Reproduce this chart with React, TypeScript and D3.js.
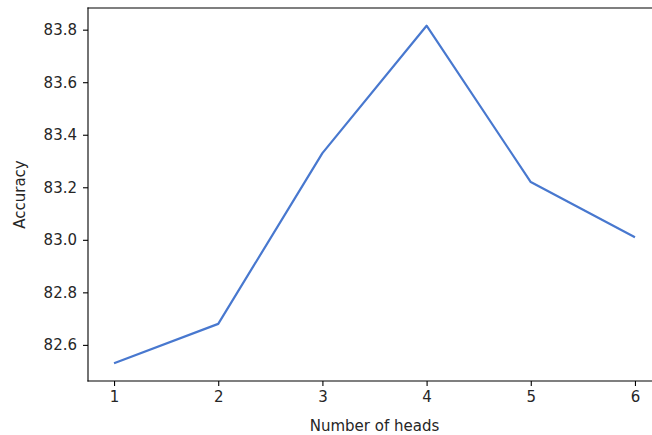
import React, { useEffect, useRef } from 'react';
import * as d3 from 'd3';

const heads = [1, 2, 3, 4, 5, 6];
const accuracy = [82.53, 82.68, 83.33, 83.815, 83.22, 83.01];
const yTicks = [82.6, 82.8, 83.0, 83.2, 83.4, 83.6, 83.8];

const width = 652;
const height = 435;
const margin = { top: 8, right: -9, bottom: 54, left: 88 };
const font = '"DejaVu Sans", sans-serif';

const App = () => {
  const svgRef = useRef<SVGSVGElement>(null);

  useEffect(() => {
    const svg = d3.select(svgRef.current);
    svg.selectAll('*').remove();

    const x = d3.scaleLinear()
      .domain([0.75, 6.25])
      .range([margin.left, width - margin.right]);

    const y = d3.scaleLinear()
      .domain([82.4625, 83.8825])
      .range([height - margin.bottom, margin.top]);

    const line = d3.line<number>()
      .x((d, i) => x(heads[i]))
      .y(d => y(d));

    svg.append('path')
      .datum(accuracy)
      .attr('d', line)
      .attr('fill', 'none')
      .attr('stroke', '#4878cf')
      .attr('stroke-width', 2.2)
      .attr('stroke-linejoin', 'round');

    // x axis
    const xAxis = svg.append('g')
      .attr('transform', `translate(0,${height - margin.bottom})`)
      .call(d3.axisBottom(x).tickValues(heads).tickFormat(d3.format('d')).tickSize(5).tickPadding(5));

    // y axis
    const yAxis = svg.append('g')
      .attr('transform', `translate(${margin.left},0)`)
      .call(d3.axisLeft(y).tickValues(yTicks).tickFormat(d3.format('.1f')).tickSize(5).tickPadding(6));

    [xAxis, yAxis].forEach(g => {
      g.select('.domain').remove();
      g.selectAll('line').attr('stroke', '#000').attr('stroke-width', 1.1);
      g.selectAll('text')
        .attr('fill', '#262626')
        .style('font-family', font)
        .style('font-size', '15px');
    });

    // spines (the right one falls outside the picture)
    const x0 = margin.left;
    const x1 = width - margin.right;
    const y0 = margin.top;
    const y1 = height - margin.bottom;
    const spines = [
      [x0, y0, x0, y1],
      [x0, y0, x1, y0],
      [x0, y1, x1, y1]
    ];
    svg.selectAll('.spine')
      .data(spines)
      .enter()
      .append('line')
      .attr('class', 'spine')
      .attr('x1', d => d[0])
      .attr('y1', d => d[1])
      .attr('x2', d => d[2])
      .attr('y2', d => d[3])
      .attr('stroke', '#000')
      .attr('stroke-width', 1.1)
      .attr('stroke-linecap', 'square');

    svg.append('text')
      .attr('x', (x0 + x1) / 2)
      .attr('y', 431)
      .attr('text-anchor', 'middle')
      .attr('fill', '#262626')
      .style('font-family', font)
      .style('font-size', '15px')
      .text('Number of heads');

    svg.append('text')
      .attr('transform', `translate(25,${(y0 + y1) / 2}) rotate(-90)`)
      .attr('text-anchor', 'middle')
      .attr('fill', '#262626')
      .style('font-family', font)
      .style('font-size', '15px')
      .text('Accuracy');
  }, []);

  return (
    <svg
      ref={svgRef}
      width={width}
      height={height}
      style={{ position: 'absolute', left: 0, top: 0, background: '#fff' }}
    />
  );
};

export default App;
